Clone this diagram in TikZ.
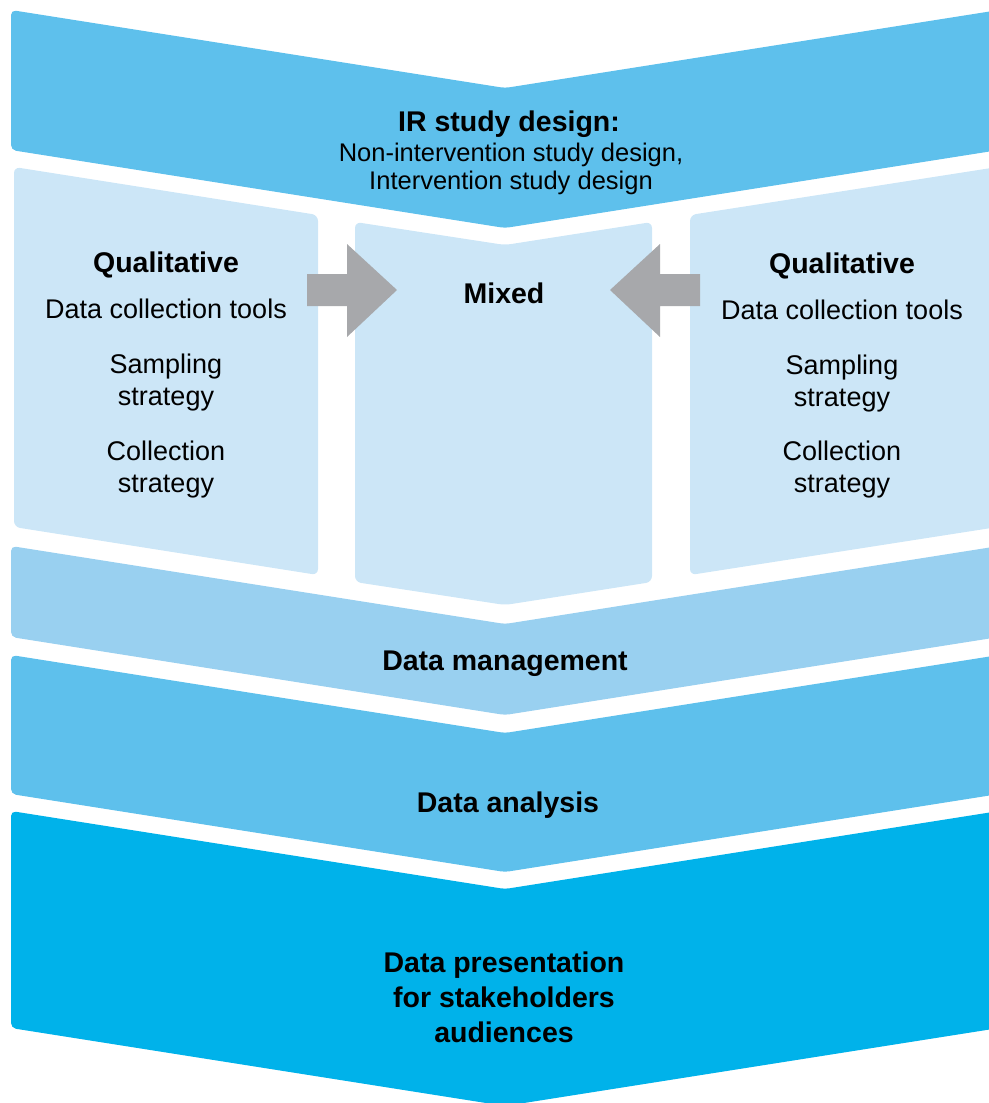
\documentclass[tikz,border=0pt]{standalone}
\usepackage{fontspec}
\setmainfont{Liberation Sans}
\usepackage{xcolor}
\usepackage{tikz}
\usetikzlibrary{positioning}
\definecolor{irblue}{HTML}{5EC0EC}
\definecolor{boxblue}{HTML}{CCE6F7}
\definecolor{mgmtblue}{HTML}{99D0F0}
\definecolor{presblue}{HTML}{00B2EA}
\definecolor{arrowgray}{HTML}{A7A8AB}
\tikzset{
  bandshape/.style={rounded corners=5pt},
  boxshape/.style={fill=boxblue,rounded corners=6pt},
  blockarrow/.style={fill=arrowgray},
  titletext/.style={font=\bfseries\fontsize{28.5}{35}\selectfont,align=center,inner sep=0pt},
  subtext/.style={font=\fontsize{25.5}{28}\selectfont,align=center,inner sep=0pt},
  bodytext/.style={font=\fontsize{27}{32}\selectfont,align=center,inner sep=0pt}
}
% one chevron band: colour, top of left edge, height
\newcommand{\chevband}[3]{%
  \fill[bandshape,#1] (11,#2) -- ++(494,78) -- ++(494,-78) -- ++(0,#3)
    -- ++(-494,78) -- ++(-494,-78) -- cycle;}

\begin{document}
\begin{tikzpicture}[x=1pt,y=-1pt]
  \useasboundingbox (0,0) rectangle (988,1103);
  % bands
  \chevband{irblue}{10}{140}
  \chevband{mgmtblue}{546}{91}
  \chevband{irblue}{655}{139}
  \chevband{presblue}{811}{217}
  % three boxes of the method band
  \fill[boxshape] (14,167) -- (318,215) -- (318,575) -- (14,527) -- cycle;
  \fill[boxshape] (355,222) -- (505,245) -- (652,222) -- (652,582) -- (505,605) -- (355,582) -- cycle;
  \fill[boxshape] (690,215) -- (1004,166) -- (1004,526) -- (690,575) -- cycle;
  % arrows into the mixed box
  \fill[blockarrow] (307,274) -- (347,274) -- (347,244) -- (397,290) -- (347,337) -- (347,306) -- (307,306) -- cycle;
  \fill[blockarrow] (700,274) -- (660,274) -- (660,244) -- (610,290) -- (660,337) -- (660,306) -- (700,306) -- cycle;
  % texts
  \node[titletext] (irtitle) at (509,124) {IR study design:};
  \node[subtext] (irsub) at (511,169) {Non-intervention study design,\\Intervention study design};
  \node[titletext] (qualL) at (166,265) {Qualitative};
  \node[bodytext] (toolsL) at (166,309) {Data collection tools};
  \node[bodytext] (sampL) at (166,383) {Sampling\\strategy};
  \node[bodytext] (collL) at (166,470) {Collection\\strategy};
  \node[titletext] (mixed) at (504,293) {Mixed};
  \node[titletext] (qualR) at (842,266) {Qualitative};
  \node[bodytext] (toolsR) at (842,310) {Data collection tools};
  \node[bodytext] (sampR) at (842,384) {Sampling\\strategy};
  \node[bodytext] (collR) at (842,470) {Collection\\strategy};
  \node[titletext] (mgmt) at (505,664) {Data management};
  \node[titletext] (analysis) at (508,805) {Data analysis};
  \node[titletext] (present) at (504,997) {Data presentation\\for stakeholders\\audiences};
\end{tikzpicture}
\end{document}
